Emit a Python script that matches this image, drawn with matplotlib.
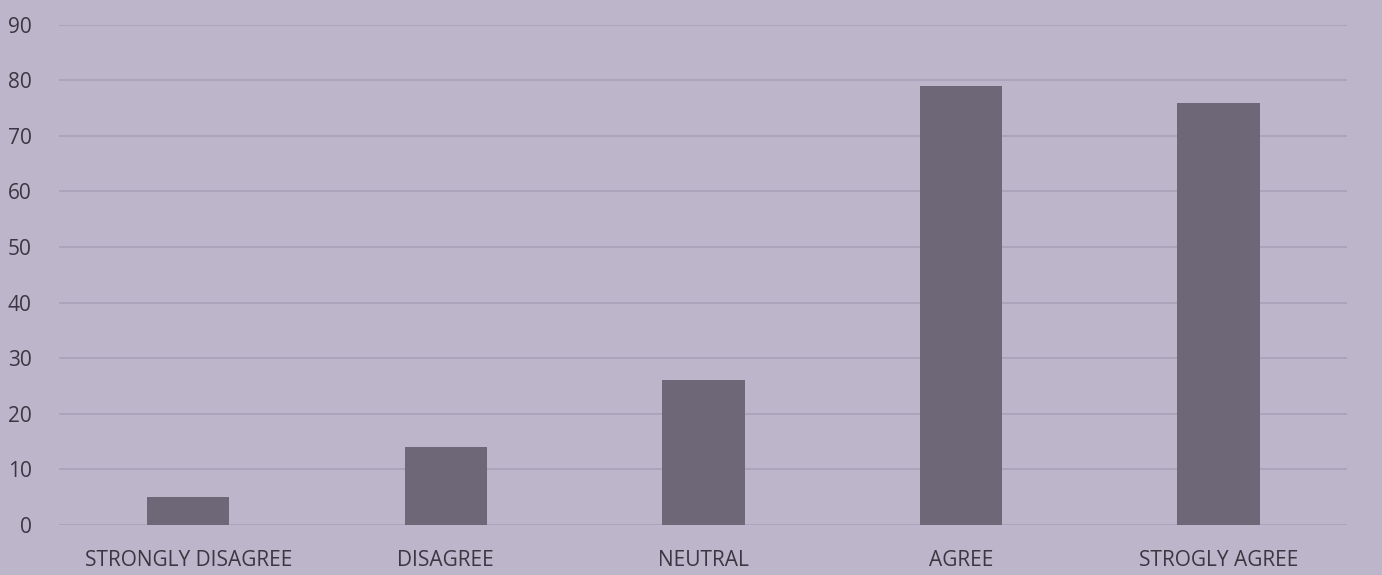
import matplotlib.pyplot as plt
import numpy as np

# Survey responses
categories = ["STRONGLY DISAGREE", "DISAGREE", "NEUTRAL", "AGREE", "STROGLY AGREE"]
counts = [5, 14, 26, 79, 76]
yticks = [0, 10, 20, 30, 40, 50, 60, 70, 80, 90]

BG = "#bdb6cb"
BAR = "#6d6777"
GRID = "#aba3b9"
TEXT = "#3b3642"

plt.rcParams['font.family'] = ['Open Sans', 'DejaVu Sans']

fig = plt.figure(figsize=(13.82, 5.75), dpi=100)
fig.patch.set_facecolor(BG)
ax = fig.add_axes([0.043, 0.087, 0.932, 0.87])
ax.set_facecolor(BG)

x = np.arange(len(categories))
ax.bar(x, counts, width=0.32, color=BAR, zorder=3)

ax.set_xlim(-0.5, len(categories) - 0.5)
ax.set_ylim(0, 90)
ax.set_yticks(yticks)
ax.set_xticks(x)
ax.set_xticklabels(categories)
ax.yaxis.grid(True, color=GRID, linewidth=1.3, zorder=0)
ax.xaxis.grid(False)
for s in ax.spines.values():
    s.set_visible(False)
ax.tick_params(axis="both", length=0, colors=TEXT, labelsize=15)
ax.tick_params(axis="y", pad=20)
ax.tick_params(axis="x", pad=18)

fig.savefig("out.png", dpi=100, facecolor=BG)
